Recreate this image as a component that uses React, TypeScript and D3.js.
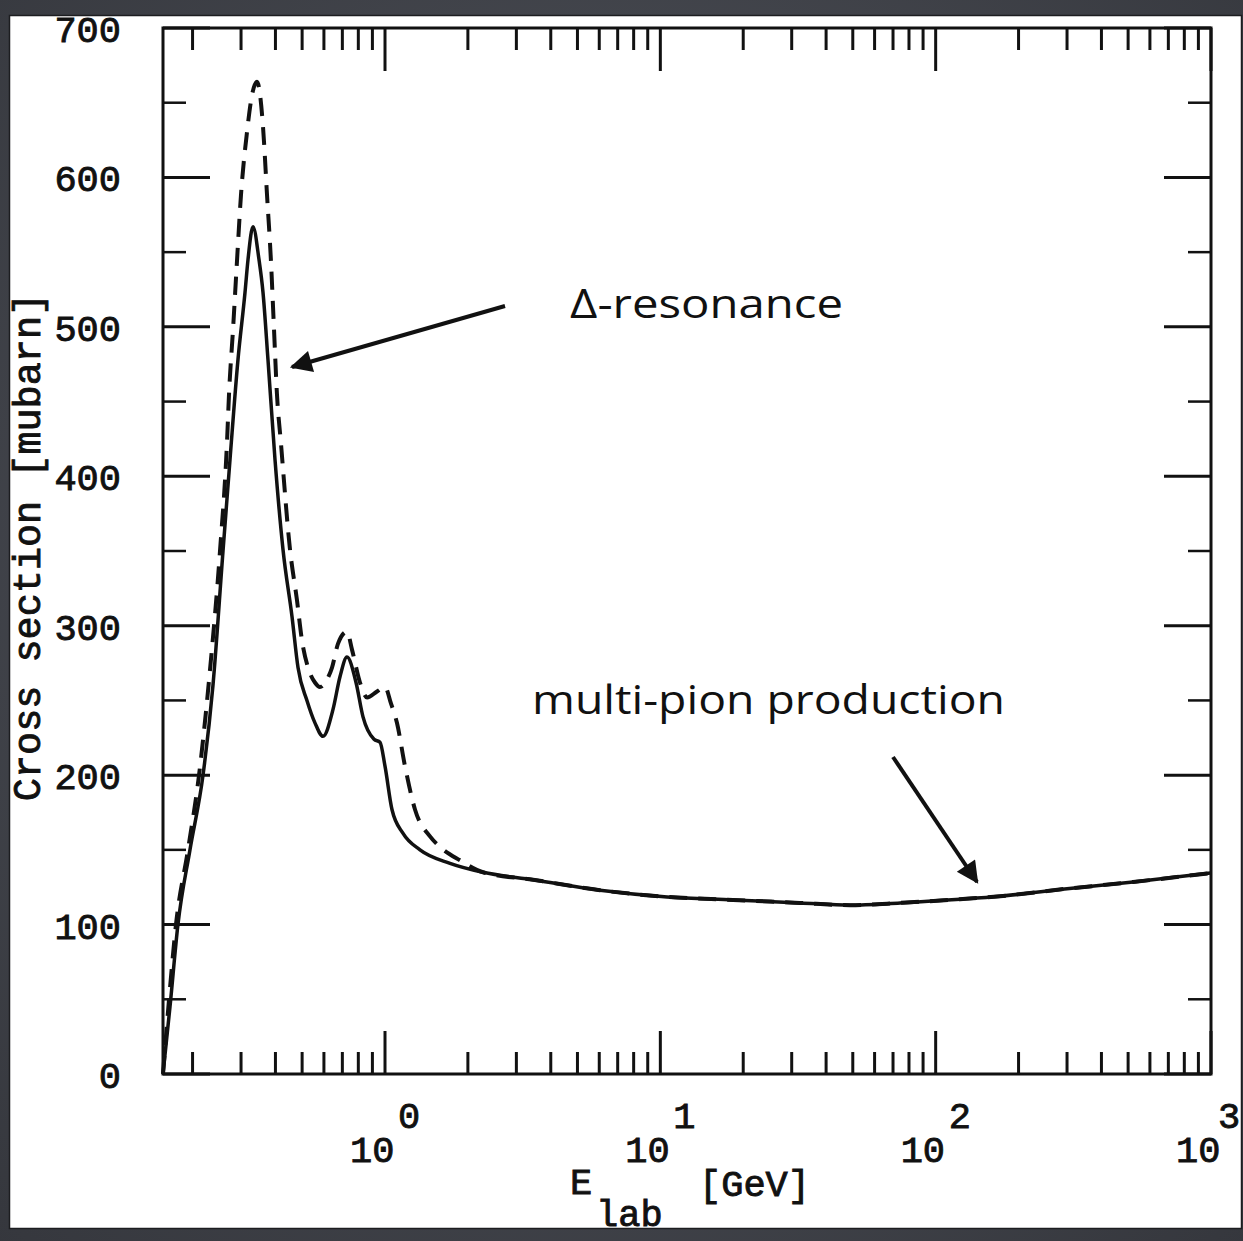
import React from "react";
import * as d3 from "d3";

// ---- data ----
// solid curve: E_lab [GeV], cross section [mubarn]
const solidE = [0.1562, 0.1656, 0.177, 0.1957, 0.2183, 0.2372, 0.258, 0.2735, 0.2924, 0.3101, 0.318, 0.3315, 0.3486, 0.3605, 0.3758, 0.3986, 0.4261, 0.4595, 0.4831, 0.5206, 0.5566, 0.5954, 0.6474, 0.6866, 0.7277, 0.7847, 0.832, 0.9122, 0.959, 1.0, 1.06, 1.163, 1.34, 1.722, 2.27, 3.449, 6.039, 10.58, 18.37, 32.18, 48.88, 74.25, 122.6, 171.4, 300.1, 521.3, 1000];
const solidSigma = [0, 45, 100, 150, 200, 260, 350, 411, 478, 523, 545, 567, 545, 523, 478, 411, 351, 306, 272, 250, 235, 226, 244, 266, 279, 262, 239, 224, 222, 206, 177, 161, 150, 141, 135, 130, 123, 118.5, 116.5, 114.5, 113, 114.5, 117, 119, 124, 128.5, 134.5];

// dashed curve
const dashedE = [0.1562, 0.1643, 0.1741, 0.1925, 0.2111, 0.2313, 0.2516, 0.2668, 0.2713, 0.2805, 0.29, 0.2998, 0.3152, 0.3287, 0.3428, 0.3605, 0.3726, 0.3853, 0.3951, 0.4051, 0.4189, 0.4518, 0.479, 0.4995, 0.5253, 0.5566, 0.5805, 0.6156, 0.642, 0.6751, 0.7277, 0.7588, 0.8112, 0.8603, 0.9353, 1.0, 1.051, 1.105, 1.182, 1.285, 1.457, 1.584, 1.873, 2.27, 3.449, 6.039, 10.58, 18.37, 32.18, 48.88, 74.25, 122.6, 171.4, 300.1, 521.3, 1000];
const dashedSigma = [0, 50, 100, 150, 200, 270, 350, 423, 455, 498, 544, 588, 630, 655, 664, 634, 589, 544, 499, 455, 422, 351, 317, 290, 272, 262, 259, 264, 272, 288, 296, 284, 262, 252, 256, 259, 248, 235, 206, 177, 159, 152, 143, 135, 130, 123, 118.5, 116.5, 114.5, 113, 114.5, 117, 119, 124, 128.5, 134.5];

const yTickValues = [0, 100, 200, 300, 400, 500, 600, 700];
const yMinorValues = [50, 150, 250, 350, 450, 550, 650];
const xDecadeExps = [0, 1, 2, 3];

const yTitle = "Cross section [mubarn]";
const xTitleMain = "E";
const xTitleSub = "lab";
const xTitleUnit = "[GeV]";
const annDelta = "Δ-resonance";
const annMulti = "multi-pion production";

// ---- layout ----
const W = 1243;
const H = 1241;
const left = 163;
const right = 1211;
const top = 28;
const bottom = 1074;

const x = d3.scaleLog().domain([0.1562, 1000]).range([left, right]);
const y = d3.scaleLinear().domain([0, 700]).range([bottom, top]);

const line = d3
  .line<[number, number]>()
  .x((d) => x(d[0]))
  .y((d) => y(d[1]))
  .curve(d3.curveMonotoneX);

const solidPts: [number, number][] = solidE.map((e, i) => [e, solidSigma[i]]);
const dashedPts: [number, number][] = dashedE.map((e, i) => [e, dashedSigma[i]]);

const mono = "'Liberation Mono', 'DejaVu Sans Mono', monospace";
const ann = "'Open Sans', 'Noto Sans', sans-serif";
const ink = "#111";

const monoProps = {
  fontFamily: mono,
  fontSize: 37,
  fill: ink,
  stroke: ink,
  strokeWidth: 0.9,
};

export default function App() {
  const xTicks = x.ticks().filter((t) => t >= 0.1562 && t <= 1000);
  const isMajor = (t: number) => Math.abs(Math.log10(t) - Math.round(Math.log10(t))) < 1e-9;

  return (
    <svg
      width={W}
      height={H}
      viewBox={`0 0 ${W} ${H}`}
      style={{ position: "absolute", left: 0, top: 0, display: "block" }}
    >
      <defs>
        <radialGradient id="bg" cx="50%" cy="45%" r="75%">
          <stop offset="0%" stopColor="#53565e" />
          <stop offset="100%" stopColor="#35373d" />
        </radialGradient>
        <clipPath id="panel">
          <rect x={10} y={16} width={1231} height={1212} />
        </clipPath>
        <marker id="arrow" viewBox="0 0 10 10" refX="9" refY="5" markerWidth="7" markerHeight="5.5" orient="auto" markerUnits="strokeWidth">
          <path d="M0,0 L10,5 L0,10 z" fill={ink} />
        </marker>
      </defs>
      <rect x={0} y={0} width={W} height={H} fill="url(#bg)" />
      <rect x={9.5} y={15.5} width={1232} height={1213} fill="#fff" stroke="#1c1d20" strokeWidth={1.5} />

      <g clipPath="url(#panel)">
        {/* curves */}
        <path d={line(dashedPts) || ""} fill="none" stroke={ink} strokeWidth={4} strokeDasharray="18 11" />
        <path d={line(solidPts) || ""} fill="none" stroke={ink} strokeWidth={3.5} />

        {/* frame */}
        <rect x={left} y={top} width={right - left} height={bottom - top} fill="none" stroke={ink} strokeWidth={3} />

        {/* x ticks top & bottom */}
        {xTicks.map((t, i) => {
          const len = isMajor(t) ? 43 : 22;
          const xx = x(t);
          return (
            <g key={"xt" + i}>
              <line x1={xx} x2={xx} y1={bottom} y2={bottom - len} stroke={ink} strokeWidth={3} />
              <line x1={xx} x2={xx} y1={top} y2={top + len} stroke={ink} strokeWidth={3} />
            </g>
          );
        })}

        {/* y ticks left & right */}
        {yTickValues.map((v) => (
          <g key={"yt" + v}>
            <line x1={left} x2={left + 47} y1={y(v)} y2={y(v)} stroke={ink} strokeWidth={3} />
            <line x1={right} x2={right - 47} y1={y(v)} y2={y(v)} stroke={ink} strokeWidth={3} />
          </g>
        ))}
        {yMinorValues.map((v) => (
          <g key={"ym" + v}>
            <line x1={left} x2={left + 23} y1={y(v)} y2={y(v)} stroke={ink} strokeWidth={2.5} />
            <line x1={right} x2={right - 23} y1={y(v)} y2={y(v)} stroke={ink} strokeWidth={2.5} />
          </g>
        ))}

        {/* y tick labels */}
        {yTickValues.map((v) => (
          <text key={"yl" + v} x={121} y={y(v) + 14} textAnchor="end" {...monoProps}>
            {v}
          </text>
        ))}

        {/* x tick labels */}
        {xDecadeExps.map((p) => {
          const xx = x(Math.pow(10, p));
          return (
            <g key={"xl" + p}>
              <text x={xx - 35} y={1162} {...monoProps}>
                10
              </text>
              <text x={Math.min(xx + 13, 1218)} y={1128} {...monoProps}>
                {p}
              </text>
            </g>
          );
        })}

        {/* axis titles */}
        <text x={570} y={1194} {...monoProps}>
          {xTitleMain}
        </text>
        <text x={596} y={1226} {...monoProps}>
          {xTitleSub}
        </text>
        <text x={699} y={1196} {...monoProps}>
          {xTitleUnit}
        </text>
        <text
          transform={`translate(40, ${547}) rotate(-90)`}
          textAnchor="middle"
          {...monoProps}
          fontSize={38.5}
        >
          {yTitle}
        </text>

        {/* annotations */}
        <text x={570} y={318} fontFamily={ann} fontSize={40} fill={ink} textLength={273} lengthAdjust="spacingAndGlyphs">
          {annDelta}
        </text>
        <line x1={505} y1={306} x2={292} y2={367} stroke={ink} strokeWidth={4} markerEnd="url(#arrow)" />

        <text x={532} y={714} fontFamily={ann} fontSize={40} fill={ink} textLength={473} lengthAdjust="spacingAndGlyphs">
          {annMulti}
        </text>
        <line x1={893} y1={757} x2={977} y2={882} stroke={ink} strokeWidth={4} markerEnd="url(#arrow)" />
      </g>
    </svg>
  );
}
